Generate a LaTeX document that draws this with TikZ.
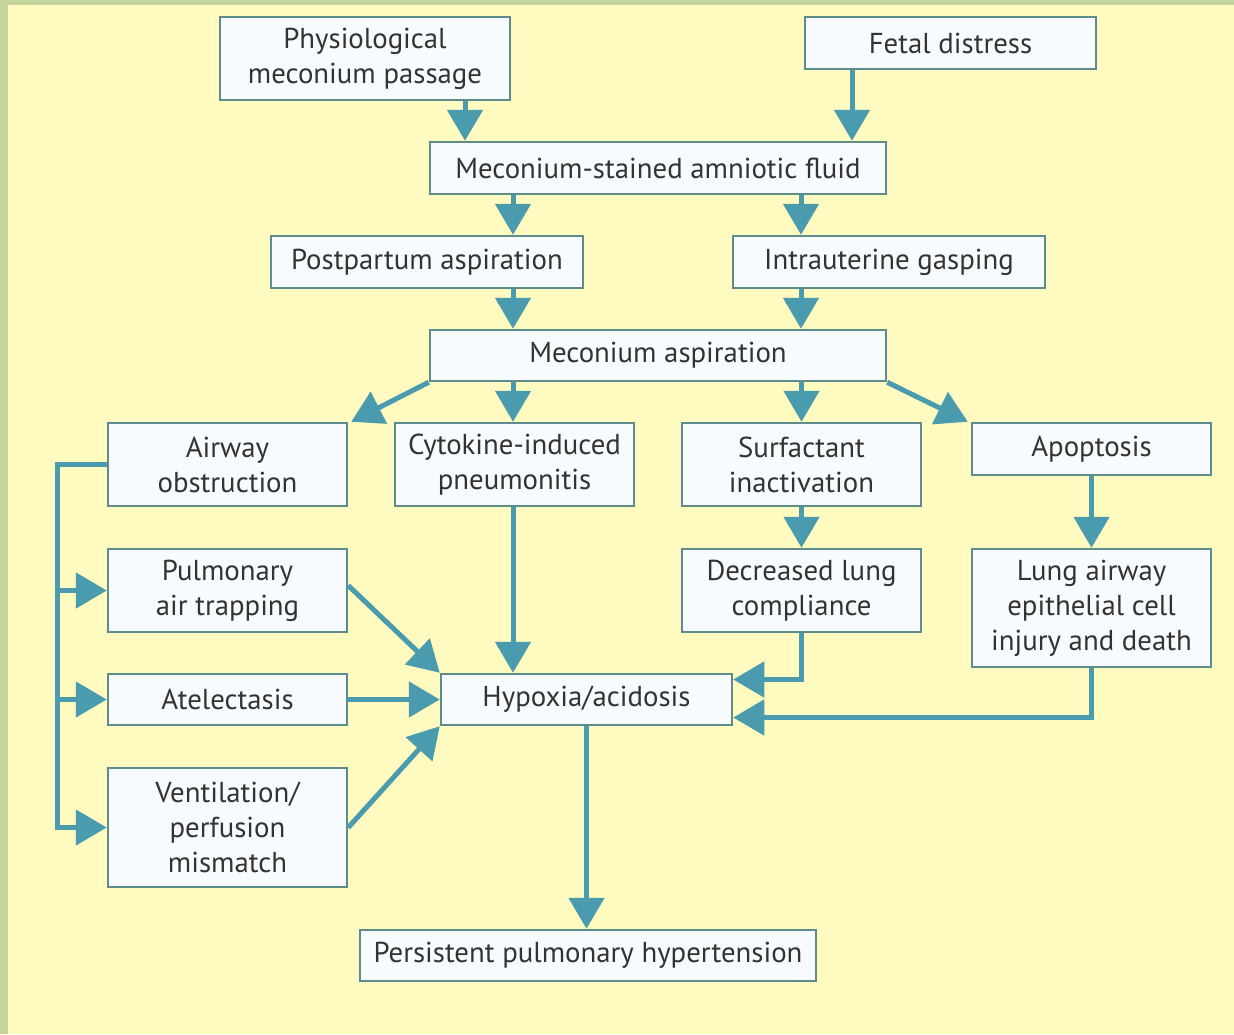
\documentclass[tikz,border=0pt]{standalone}
\usepackage{fontspec}
\setmainfont{PT Sans}
\usetikzlibrary{arrows.meta,calc}
\definecolor{bggreen}{HTML}{C4D49A}
\definecolor{bgyellow}{HTML}{FEFAC0}
\definecolor{boxfill}{HTML}{F7FBFD}
\definecolor{boxline}{HTML}{5E8C8C}
\definecolor{arrcol}{HTML}{4A9BAD}
\definecolor{txt}{HTML}{333333}
\tikzset{
  box/.style={draw=boxline, line width=2.5pt, fill=boxfill, text=txt, inner sep=0pt, align=center,
    font=\fontsize{28.8}{35}\selectfont},
  arr/.style={draw=arrcol, line width=5pt, -{Triangle[length=31pt,width=35pt]}},
  ln/.style={draw=arrcol, line width=5pt}
}
\begin{document}
\begin{tikzpicture}[x=1pt,y=-1pt]
\useasboundingbox (0,0) rectangle (1234,1034);
\fill[bggreen] (0,0) rectangle (1234,1034);
\fill[bgyellow] (8,5) rectangle (1234,1034);

\node[box, minimum width=290pt, minimum height=83pt] (phys) at (365,58.5) {Physiological\\meconium passage};
\node[box, minimum width=291pt, minimum height=52pt] (fetal) at (950.5,43) {Fetal distress};
\node[box, minimum width=456pt, minimum height=52pt] (msaf) at (658,168) {Meconium-stained amniotic fluid};
\node[box, minimum width=312pt, minimum height=52pt] (post) at (427,262) {Postpartum aspiration};
\node[box, minimum width=312pt, minimum height=52pt] (intra) at (889,262) {Intrauterine gasping};
\node[box, minimum width=456pt, minimum height=51pt] (ma) at (658,355.5) {Meconium aspiration};
\node[box, minimum width=239pt, minimum height=83pt] (airway) at (227.5,464.5) {Airway\\obstruction};
\node[box, minimum width=239pt, minimum height=83pt] (cyto) at (514.5,464.5) {Cytokine-induced\\pneumonitis};
\node[box, minimum width=239pt, minimum height=83pt] (surf) at (801.5,464.5) {Surfactant\\inactivation};
\node[box, minimum width=239pt, minimum height=52pt] (apop) at (1091.5,449) {Apoptosis};
\node[box, minimum width=239pt, minimum height=83pt] (pat) at (227.5,590.5) {Pulmonary\\air trapping};
\node[box, minimum width=239pt, minimum height=83pt] (dlc) at (801.5,590.5) {Decreased lung\\compliance};
\node[box, minimum width=239pt, minimum height=118pt] (lae) at (1091.5,608) {Lung airway\\epithelial cell\\injury and death};
\node[box, minimum width=239pt, minimum height=51pt] (atel) at (227.5,699.5) {Atelectasis};
\node[box, minimum width=291pt, minimum height=51pt] (hyp) at (586.5,699.5) {Hypoxia/acidosis};
\node[box, minimum width=239pt, minimum height=119pt] (vp) at (227.5,827.5) {Ventilation/\\perfusion\\mismatch};
\node[box, minimum width=456pt, minimum height=51pt] (pph) at (588,955.5) {Persistent pulmonary hypertension};

\draw[arr] ([xshift=100pt]phys.south) -- ([xshift=100pt]phys.south |- msaf.north);
\draw[arr] ([xshift=-98.5pt]fetal.south) -- ([xshift=-98.5pt]fetal.south |- msaf.north);
\draw[arr] ([xshift=86pt]post.north |- msaf.south) -- ([xshift=86pt]post.north);
\draw[arr] ([xshift=-88pt]intra.north |- msaf.south) -- ([xshift=-88pt]intra.north);
\draw[arr] ([xshift=86pt]post.south) -- ([xshift=86pt]post.south |- ma.north);
\draw[arr] ([xshift=-88pt]intra.south) -- ([xshift=-88pt]intra.south |- ma.north);
\draw[arr] (ma.south west) -- ([xshift=3pt]airway.north east);
\draw[arr] ([xshift=-1.5pt]cyto.north |- ma.south) -- ([xshift=-1.5pt]cyto.north);
\draw[arr] (surf.north |- ma.south) -- (surf.north);
\draw[arr] (ma.south east) -- ([xshift=-3pt]apop.north west);
\draw[arr] (apop.south) -- (lae.north);
\draw[arr] (surf.south) -- (dlc.north);
\draw[arr] ([xshift=-1.5pt]cyto.south) -- ([xshift=-1.5pt]cyto.south |- hyp.north);
\draw[arr] ([yshift=5pt]pat.east) -- (hyp.north west);
\draw[arr] (atel.east) -- (hyp.west);
\draw[arr] (vp.east) -- (hyp.south west);
\draw[arr] (dlc.south) |- ([yshift=20pt]hyp.east);
\draw[arr] (lae.south) |- ([yshift=-18pt]hyp.east);
\draw[arr] (hyp.south) -- (hyp.south |- pph.north);

\coordinate (bx) at (57,0);
\draw[ln] (airway.west) -| (bx |- vp.west);
\draw[arr] (bx |- pat.west) -- (pat.west);
\draw[arr] (bx |- atel.west) -- (atel.west);
\draw[arr] ([xshift=-2.5pt]bx |- vp.west) -- (vp.west);
\end{tikzpicture}
\end{document}
